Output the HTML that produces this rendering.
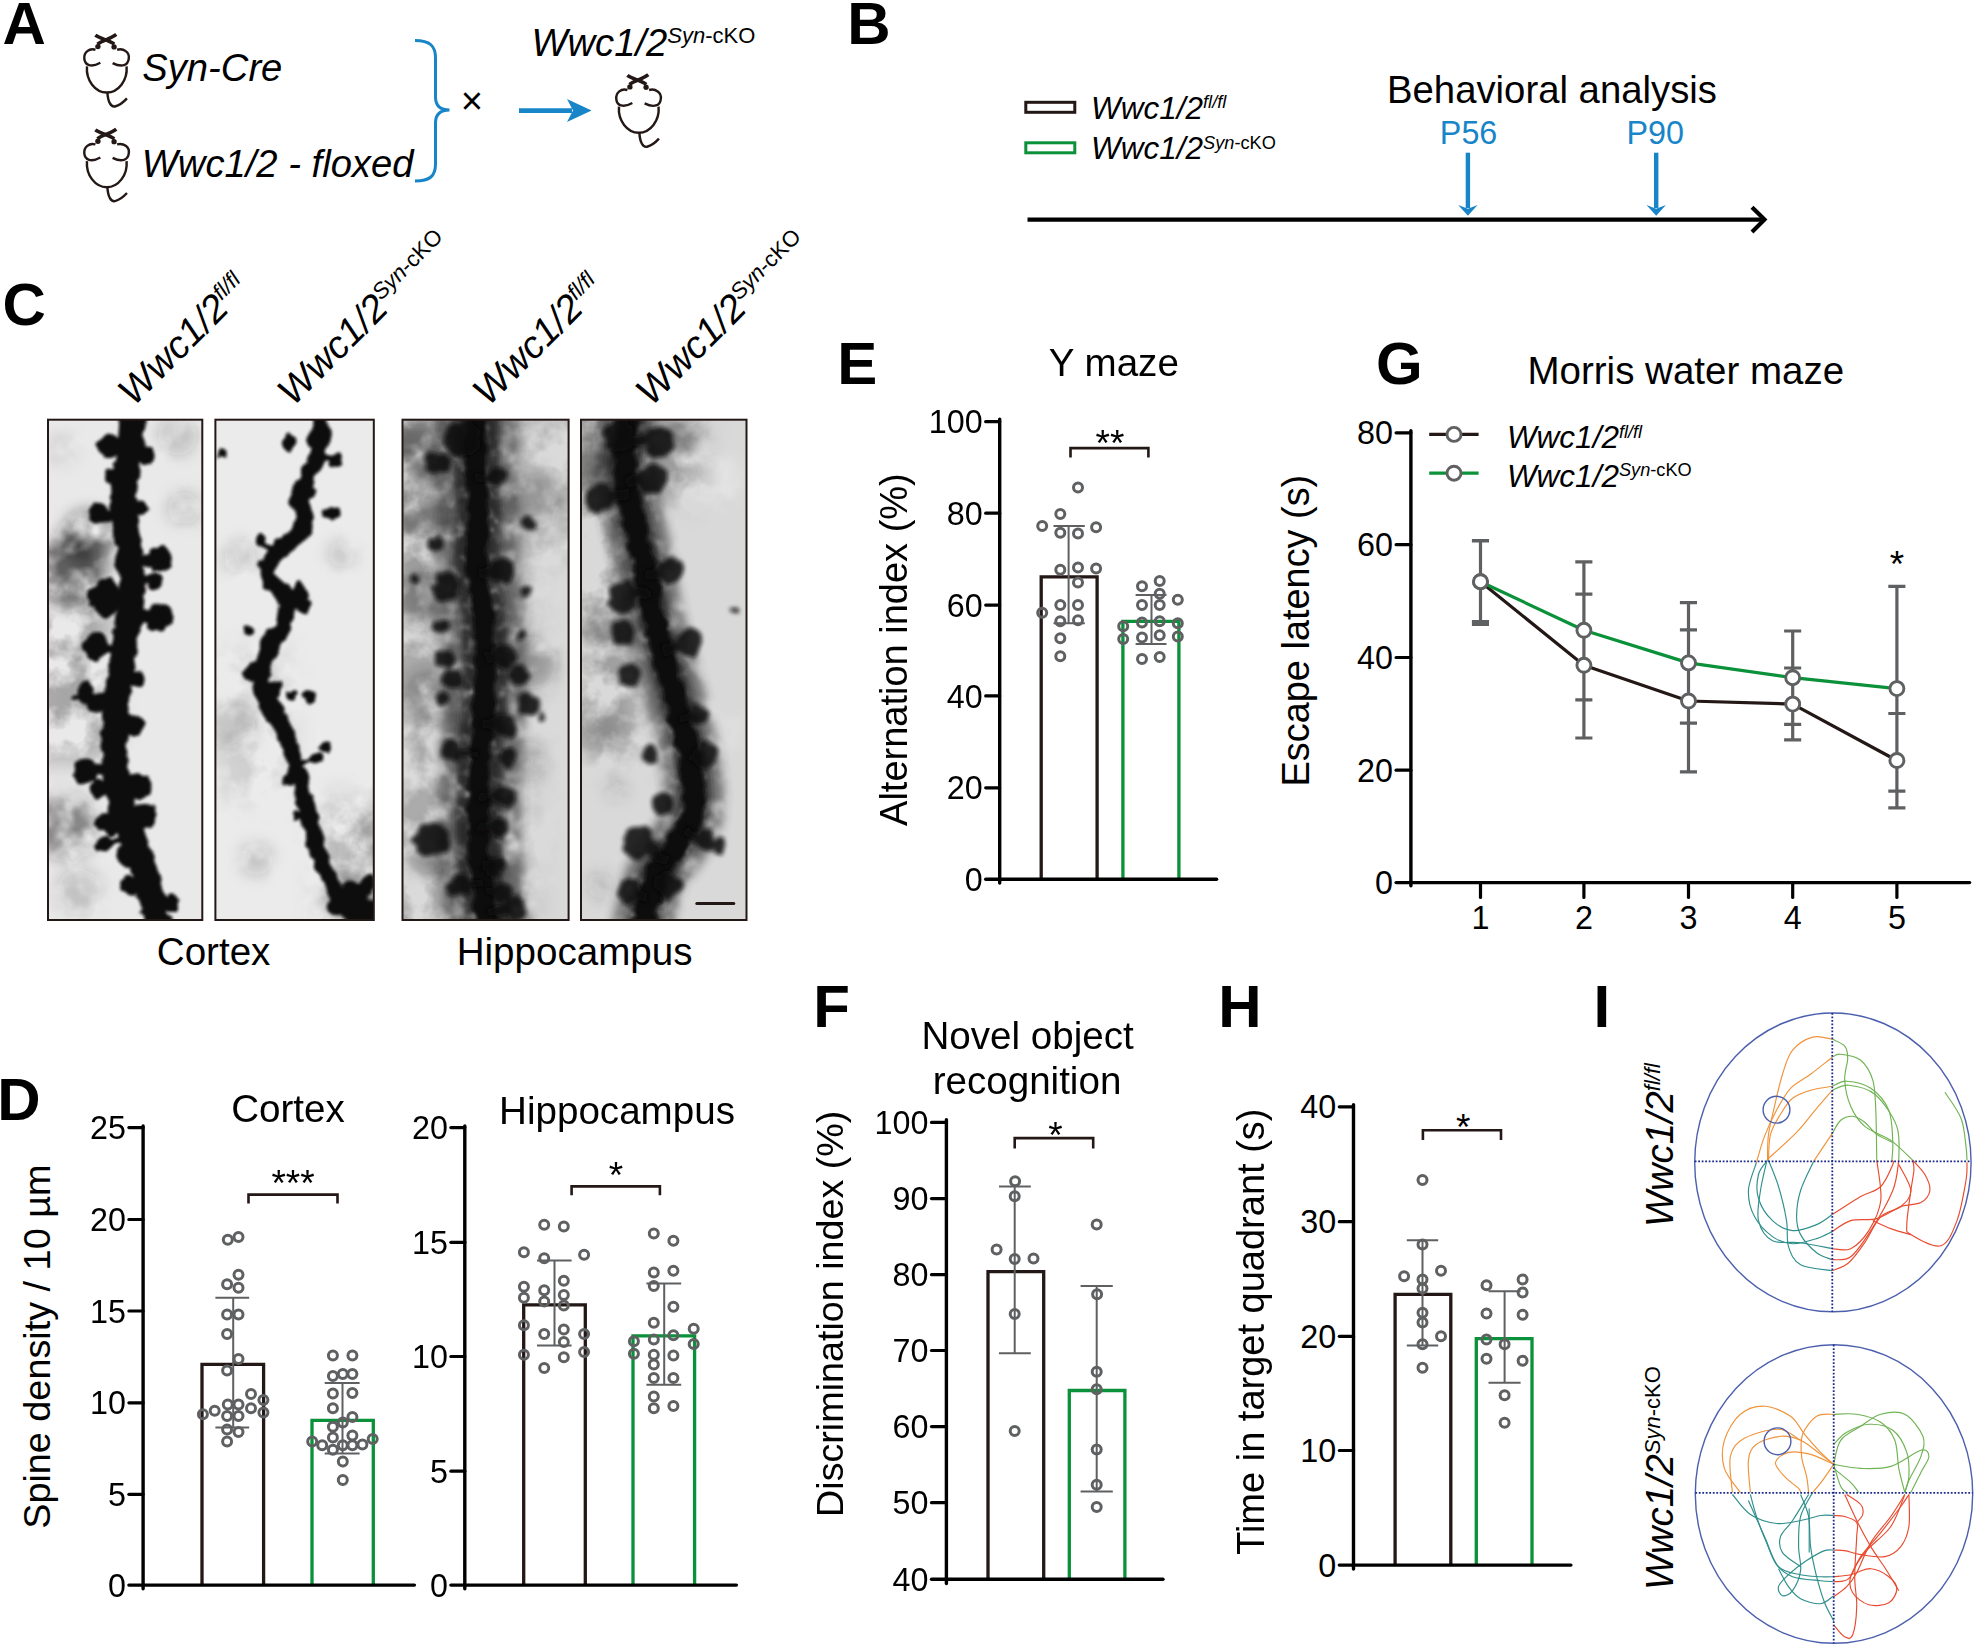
<!DOCTYPE html>
<html lang="en"><head><meta charset="utf-8"><title>Figure</title>
<style>html,body{margin:0;padding:0;background:#fff;}svg{display:block;}text{font-family:"Liberation Sans", sans-serif;}</style></head><body>
<svg width="1975" height="1646" viewBox="0 0 1975 1646">
<rect width="1975" height="1646" fill="#fff"/>
<defs><g id="mouse" fill="none" stroke="#231815" stroke-width="20" stroke-linecap="butt">
<path d="M291,128 C330,158 400,168 447,202" stroke-width="29"/>
<path d="M463,122 C420,158 352,168 308,202" stroke-width="29"/>
<circle cx="312" cy="222" r="22" fill="#231815" stroke="none"/>
<circle cx="445" cy="225" r="22" fill="#231815" stroke="none"/>
<path d="M292,248 C240,232 195,270 200,322 C205,375 255,398 332,355"/>
<path d="M470,248 C522,232 575,270 566,322 C560,375 512,398 433,358"/>
<path d="M222,385 C212,500 290,600 385,600 C480,600 558,500 548,385"/>
<path d="M390,600 C395,680 420,722 452,715 C490,705 522,680 551,648"/>
</g></defs>
<text x="2.5" y="44" font-size="60" text-anchor="start" fill="#000" font-weight="bold">A</text>
<use href="#mouse" transform="translate(60,19.6) scale(0.12151)"/>
<use href="#mouse" transform="translate(60,114.3) scale(0.12151)"/>
<use href="#mouse" transform="translate(592,59.9) scale(0.12151)"/>
<text x="142.3" y="80.7" font-size="38.2" text-anchor="start" fill="#000" font-style="italic">Syn-Cre</text>
<text x="141.8" y="177" font-size="38.2" text-anchor="start" fill="#000" font-style="italic">Wwc1/2 - floxed</text>
<path d="M415,40.5 C430,40.5 435.5,46 435.5,58 V97 C435.5,106 440,110 449.5,110 C440,110 435.5,114 435.5,123 V164 C435.5,176 430,181 415,181" stroke="#1885c8" stroke-width="3" fill="none"/>
<text x="472" y="113.5" font-size="38.2" text-anchor="middle" fill="#000">×</text>
<line x1="519" y1="110.6" x2="572" y2="110.6" stroke="#1885c8" stroke-width="4.6" stroke-linecap="butt"/>
<path d="M591.6,110.6 L567,99 L573,110.6 L567,122 Z" fill="#1885c8"/>
<text x="531.5" y="55.7" font-size="38.2" text-anchor="start" fill="#000" font-style="italic">Wwc1/2<tspan dy="-12.8" font-size="22">Syn</tspan><tspan font-size="22" font-style="normal">-cKO</tspan></text>
<text x="847.3" y="44" font-size="60" text-anchor="start" fill="#000" font-weight="bold">B</text>
<rect x="1025.8" y="102.3" width="49" height="10" fill="none" stroke="#231815" stroke-width="3"/>
<rect x="1025.8" y="142.8" width="49" height="10" fill="none" stroke="#0a9139" stroke-width="3"/>
<text x="1091" y="118.6" font-size="31.5" text-anchor="start" fill="#000" font-style="italic">Wwc1/2<tspan dy="-10.6" font-size="18.2">fl/fl</tspan></text>
<text x="1091" y="159.1" font-size="31.5" text-anchor="start" fill="#000" font-style="italic">Wwc1/2<tspan dy="-10.6" font-size="18.2">Syn</tspan><tspan font-size="18.2" font-style="normal">-cKO</tspan></text>
<text x="1552" y="102.8" font-size="38.3" text-anchor="middle" fill="#000">Behavioral analysis</text>
<text x="1468.6" y="143.6" font-size="32.3" text-anchor="middle" fill="#1885c8">P56</text>
<text x="1655.2" y="143.6" font-size="32.3" text-anchor="middle" fill="#1885c8">P90</text>
<line x1="1467.9" y1="152.7" x2="1467.9" y2="208" stroke="#1885c8" stroke-width="4.4" stroke-linecap="butt"/>
<path d="M1467.9,215.8 L1458.2,205 L1467.9,208.8 L1477.6,205 Z" fill="#1885c8"/>
<line x1="1656.2" y1="152.7" x2="1656.2" y2="208" stroke="#1885c8" stroke-width="4.4" stroke-linecap="butt"/>
<path d="M1656.2,215.8 L1646.5,205 L1656.2,208.8 L1665.9,205 Z" fill="#1885c8"/>
<line x1="1027.5" y1="219.6" x2="1763" y2="219.6" stroke="#000" stroke-width="4.4" stroke-linecap="butt"/>
<path d="M1752,207.2 L1764.5,219.6 L1752,232" stroke="#000" stroke-width="4.2" fill="none"/>
<text x="2.4" y="325.4" font-size="60" text-anchor="start" fill="#000" font-weight="bold">C</text>
<defs><filter id="b1" filterUnits="userSpaceOnUse" x="0" y="380" width="800" height="580"><feTurbulence type="fractalNoise" baseFrequency="0.07" numOctaves="2" seed="4" result="n"/><feDisplacementMap in="SourceGraphic" in2="n" scale="11" xChannelSelector="R" yChannelSelector="G"/><feGaussianBlur stdDeviation="1.4"/></filter><filter id="b2" filterUnits="userSpaceOnUse" x="0" y="380" width="800" height="580"><feGaussianBlur stdDeviation="8" result="bl"/><feTurbulence type="fractalNoise" baseFrequency="0.035" numOctaves="3" seed="11" result="n"/><feColorMatrix in="n" type="matrix" values="0 0 0 0 0 0 0 0 0 0 0 0 0 0 0 2.6 0 0 0 -0.55" result="na"/><feComposite in="bl" in2="na" operator="in"/><feGaussianBlur stdDeviation="1.2"/></filter><filter id="b3" filterUnits="userSpaceOnUse" x="0" y="380" width="800" height="580"><feGaussianBlur stdDeviation="5" result="bl"/><feTurbulence type="fractalNoise" baseFrequency="0.05" numOctaves="3" seed="23" result="n"/><feColorMatrix in="n" type="matrix" values="0 0 0 0 0 0 0 0 0 0 0 0 0 0 0 2.2 0 0 0 -0.25" result="na"/><feComposite in="bl" in2="na" operator="in"/><feGaussianBlur stdDeviation="1.5"/></filter><filter id="tx" filterUnits="userSpaceOnUse" x="0" y="380" width="800" height="580"><feTurbulence type="fractalNoise" baseFrequency="0.028" numOctaves="4" seed="5" result="n"/><feColorMatrix in="n" type="matrix" values="0 0 0 0 0.13 0 0 0 0 0.13 0 0 0 0 0.13 3.4 0 0 0 -1.25" result="c"/><feGaussianBlur in="SourceGraphic" stdDeviation="14" result="sb"/><feComposite in="c" in2="sb" operator="in"/></filter><filter id="b5" filterUnits="userSpaceOnUse" x="0" y="380" width="800" height="580"><feGaussianBlur stdDeviation="3.2" result="bl"/><feTurbulence type="fractalNoise" baseFrequency="0.09" numOctaves="2" seed="31" result="n"/><feColorMatrix in="n" type="matrix" values="0 0 0 0 0 0 0 0 0 0 0 0 0 0 0 2.4 0 0 0 -0.2" result="na"/><feComposite in="bl" in2="na" operator="in"/><feGaussianBlur stdDeviation="1.2"/></filter><filter id="b4" filterUnits="userSpaceOnUse" x="0" y="380" width="800" height="580"><feTurbulence type="fractalNoise" baseFrequency="0.07" numOctaves="2" seed="4" result="n"/><feDisplacementMap in="SourceGraphic" in2="n" scale="11" xChannelSelector="R" yChannelSelector="G"/><feGaussianBlur stdDeviation="2.2"/></filter></defs>
<clipPath id="c1"><rect x="48" y="419.7" width="154.3" height="500.3"/></clipPath>
<g clip-path="url(#c1)">
<rect x="48" y="419.7" width="154.3" height="500.3" fill="#e9e9e9"/>
<g filter="url(#b2)">
<circle cx="69.4" cy="570.6" r="34.4" fill="#222" opacity="0.7"/>
<circle cx="66.1" cy="826.5" r="31.2" fill="#222" opacity="0.5"/>
<circle cx="177.6" cy="436.1" r="19.7" fill="#222" opacity="0.2"/>
<circle cx="89.1" cy="537.8" r="26.2" fill="#222" opacity="0.6"/>
<circle cx="184.2" cy="508.3" r="16.4" fill="#222" opacity="0.2"/>
<circle cx="79.2" cy="892.1" r="23" fill="#222" opacity="0.2"/>
<circle cx="62.8" cy="449.2" r="16.4" fill="#222" opacity="0.1"/>
</g>
<rect x="30" y="560" width="80" height="200" fill="#222" filter="url(#tx)" opacity="0.5"/>
<rect x="30" y="1150" width="70" height="270" fill="#222" filter="url(#tx)" opacity="0.4"/>
<g filter="url(#b1)" fill="#0c0a0a">
<path d="M133.3,413.1 C132.8,419.1 131.4,437.7 130.1,449.2 C128.7,460.7 126.2,471.1 125.1,482 C124.1,493 123,503.9 123.5,514.8 C124.1,525.8 127.1,536.7 128.4,547.6 C129.8,558.6 131.4,569.5 131.7,580.4 C132,591.4 131.4,602.3 130.1,613.3 C128.7,624.2 125.4,635.1 123.5,646.1 C121.6,657 119.9,667.9 118.6,678.9 C117.2,689.8 116.1,700.7 115.3,711.7 C114.5,722.6 113.4,733.6 113.7,744.5 C113.9,755.4 115.3,766.4 116.9,777.3 C118.6,788.2 120.5,799.2 123.5,810.1 C126.5,821 131.2,832 135,842.9 C138.8,853.8 142.6,862.1 146.5,875.7 C150.3,889.4 156,916.7 158,924.9" fill="none" stroke="#0c0a0a" stroke-width="26" stroke-linecap="round" stroke-linejoin="round"/>
<circle cx="108.7" cy="445.9" r="12.1"/>
<line x1="108.7" y1="445.9" x2="130.2" y2="447.9" stroke="#0c0a0a" stroke-width="9.7"/>
<circle cx="143.2" cy="455.8" r="10.3"/>
<line x1="143.2" y1="455.8" x2="129.4" y2="453.7" stroke="#0c0a0a" stroke-width="8.3"/>
<circle cx="100.5" cy="514.8" r="11"/>
<line x1="100.5" y1="514.8" x2="123.5" y2="514.8" stroke="#0c0a0a" stroke-width="8.9"/>
<circle cx="159.6" cy="559.1" r="12.1"/>
<line x1="159.6" y1="559.1" x2="129.9" y2="562.1" stroke="#0c0a0a" stroke-width="9.7"/>
<circle cx="154.7" cy="580.4" r="8.1"/>
<line x1="154.7" y1="580.4" x2="131.7" y2="580.4" stroke="#0c0a0a" stroke-width="6.5"/>
<circle cx="105.5" cy="598.5" r="17.6"/>
<line x1="105.5" y1="598.5" x2="130.7" y2="599.8" stroke="#0c0a0a" stroke-width="14.2"/>
<circle cx="159.6" cy="616.5" r="14"/>
<line x1="159.6" y1="616.5" x2="130.1" y2="613.3" stroke="#0c0a0a" stroke-width="11.2"/>
<circle cx="95.6" cy="646.1" r="12.9"/>
<line x1="95.6" y1="646.1" x2="122.9" y2="650.2" stroke="#0c0a0a" stroke-width="10.3"/>
<circle cx="85.8" cy="692" r="10.3"/>
<circle cx="98.9" cy="701.8" r="11"/>
<line x1="98.9" y1="701.8" x2="116.1" y2="703.6" stroke="#0c0a0a" stroke-width="8.9"/>
<circle cx="131.7" cy="724.8" r="12.1"/>
<line x1="131.7" y1="724.8" x2="114.7" y2="724" stroke="#0c0a0a" stroke-width="9.7"/>
<circle cx="135" cy="678.9" r="10.3"/>
<line x1="135" y1="678.9" x2="118.9" y2="676.5" stroke="#0c0a0a" stroke-width="8.3"/>
<circle cx="85.8" cy="770.7" r="12.1"/>
<line x1="85.8" y1="770.7" x2="116" y2="767.7" stroke="#0c0a0a" stroke-width="9.7"/>
<circle cx="98.9" cy="788.8" r="10.3"/>
<line x1="98.9" y1="788.8" x2="118.5" y2="784.9" stroke="#0c0a0a" stroke-width="8.3"/>
<circle cx="138.3" cy="787.1" r="12.1"/>
<line x1="138.3" y1="787.1" x2="119.7" y2="790.9" stroke="#0c0a0a" stroke-width="9.7"/>
<circle cx="144.8" cy="816.7" r="12.1"/>
<line x1="144.8" y1="816.7" x2="127.9" y2="822.6" stroke="#0c0a0a" stroke-width="9.7"/>
<circle cx="108.7" cy="823.2" r="12.1"/>
<line x1="108.7" y1="823.2" x2="126" y2="817.2" stroke="#0c0a0a" stroke-width="9.7"/>
<circle cx="104.8" cy="844.6" r="8.8"/>
<line x1="104.8" y1="844.6" x2="132.2" y2="835" stroke="#0c0a0a" stroke-width="7.1"/>
<circle cx="128.4" cy="856" r="11"/>
<line x1="128.4" y1="856" x2="138.4" y2="852.6" stroke="#0c0a0a" stroke-width="8.9"/>
<circle cx="131.7" cy="885.6" r="8.8"/>
<line x1="131.7" y1="885.6" x2="147.9" y2="881.8" stroke="#0c0a0a" stroke-width="7.1"/>
<circle cx="171.7" cy="902" r="8.8"/>
<line x1="171.7" y1="902" x2="153.6" y2="906.2" stroke="#0c0a0a" stroke-width="7.1"/>
<circle cx="74.3" cy="696.9" r="2.9"/>
<circle cx="138.3" cy="508.3" r="8.1"/>
<line x1="138.3" y1="508.3" x2="123.9" y2="507.5" stroke="#0c0a0a" stroke-width="6.5"/>
<circle cx="115.3" cy="478.7" r="10.3"/>
<line x1="115.3" y1="478.7" x2="125.4" y2="480.3" stroke="#0c0a0a" stroke-width="8.3"/>
</g>
</g>
<rect x="48" y="419.7" width="154.3" height="500.3" fill="none" stroke="#231815" stroke-width="2"/>
<clipPath id="c2"><rect x="215.4" y="419.7" width="158.4" height="500.3"/></clipPath>
<g clip-path="url(#c2)">
<rect x="215.4" y="419.7" width="158.4" height="500.3" fill="#ebebeb"/>
<g filter="url(#b2)">
<circle cx="354.8" cy="898.7" r="18" fill="#222" opacity="0.9"/>
<circle cx="367.9" cy="842.9" r="14.8" fill="#222" opacity="0.5"/>
<circle cx="233.4" cy="728.1" r="23" fill="#222" opacity="0.2"/>
<circle cx="240" cy="557.5" r="16.4" fill="#222" opacity="0.2"/>
<circle cx="341.7" cy="554.2" r="13.1" fill="#222" opacity="0.2"/>
<circle cx="256.4" cy="859.3" r="16.4" fill="#222" opacity="0.2"/>
<circle cx="345" cy="885.6" r="11.5" fill="#222" opacity="0.9"/>
</g>
<rect x="215" y="650" width="75" height="150" fill="#222" filter="url(#tx)" opacity="0.2"/>
<rect x="320" y="800" width="70" height="140" fill="#222" filter="url(#tx)" opacity="0.4"/>
<g filter="url(#b1)" fill="#0c0a0a">
<path d="M320.4,413.1 C320.4,419.1 322.3,438.8 320.4,449.2 C318.4,459.6 312.4,467.3 308.9,475.5 C305.3,483.7 299.6,490.8 299,498.4 C298.5,506.1 306.7,514.3 305.6,521.4 C304.5,528.5 297.9,535.1 292.5,541.1 C287,547.1 276.9,551.5 272.8,557.5 C268.7,563.5 265.7,570.6 267.9,577.2 C270,583.7 283.2,589.2 285.9,596.9 C288.6,604.5 286.7,615.4 284.3,623.1 C281.8,630.8 274.4,636.2 271.1,642.8 C267.9,649.3 266.5,655.9 264.6,662.5 C262.7,669 258.8,675 259.7,682.2 C260.5,689.3 265.4,697.5 269.5,705.1 C273.6,712.8 280.4,719.9 284.3,728.1 C288.1,736.3 290,746.1 292.5,754.3 C294.9,762.5 296.6,768 299,777.3 C301.5,786.6 304.5,799.2 307.2,810.1 C310,821 312.4,833.1 315.4,842.9 C318.4,852.8 321.4,860.4 325.3,869.2 C329.1,877.9 332.9,886.1 338.4,895.4 C343.9,904.7 354.8,920 358.1,924.9" fill="none" stroke="#0c0a0a" stroke-width="17" stroke-linecap="round" stroke-linejoin="round"/>
<circle cx="289.2" cy="442.7" r="7.3"/>
<circle cx="335.1" cy="460.7" r="7.3"/>
<line x1="335.1" y1="460.7" x2="318.5" y2="453.4" stroke="#0c0a0a" stroke-width="5.9"/>
<circle cx="331.8" cy="514.8" r="8.8"/>
<circle cx="261.3" cy="539.4" r="6.2"/>
<line x1="261.3" y1="539.4" x2="274.9" y2="555.7" stroke="#0c0a0a" stroke-width="5"/>
<circle cx="299" cy="593.6" r="10.3"/>
<line x1="299" y1="593.6" x2="285.9" y2="596.9" stroke="#0c0a0a" stroke-width="8.3"/>
<circle cx="304.9" cy="606" r="7.3"/>
<line x1="304.9" y1="606" x2="285.4" y2="604.8" stroke="#0c0a0a" stroke-width="5.9"/>
<circle cx="248.2" cy="629.7" r="5.1"/>
<circle cx="253.1" cy="672.3" r="10.3"/>
<line x1="253.1" y1="672.3" x2="261.6" y2="674.4" stroke="#0c0a0a" stroke-width="8.3"/>
<circle cx="308.9" cy="698.6" r="7.3"/>
<circle cx="292.5" cy="695.3" r="5.1"/>
<circle cx="325.3" cy="747.8" r="7.3"/>
<circle cx="315.4" cy="759.3" r="5.9"/>
<line x1="315.4" y1="759.3" x2="295.5" y2="764.9" stroke="#0c0a0a" stroke-width="4.7"/>
<circle cx="289.2" cy="780.6" r="6.2"/>
<line x1="289.2" y1="780.6" x2="299.2" y2="778.1" stroke="#0c0a0a" stroke-width="5"/>
<circle cx="295.7" cy="815" r="5.1"/>
<line x1="295.7" y1="815" x2="307.7" y2="812" stroke="#0c0a0a" stroke-width="4.1"/>
<circle cx="221.9" cy="454.1" r="4.8"/>
<circle cx="302.3" cy="491.9" r="11"/>
<line x1="302.3" y1="491.9" x2="301.9" y2="491.7" stroke="#0c0a0a" stroke-width="8.9"/>
<circle cx="315.4" cy="439.4" r="11"/>
<line x1="315.4" y1="439.4" x2="320.4" y2="439.4" stroke="#0c0a0a" stroke-width="8.9"/>
<circle cx="272.8" cy="688.7" r="8.1"/>
<line x1="272.8" y1="688.7" x2="264.1" y2="692.4" stroke="#0c0a0a" stroke-width="6.5"/>
<circle cx="353.2" cy="897" r="15.4"/>
<line x1="353.2" y1="897" x2="343.7" y2="903.4" stroke="#0c0a0a" stroke-width="12.4"/>
<circle cx="366.3" cy="883.9" r="9.6"/>
<circle cx="369.6" cy="911.8" r="11.8"/>
<line x1="369.6" y1="911.8" x2="355.6" y2="921.1" stroke="#0c0a0a" stroke-width="9.4"/>
<circle cx="335.1" cy="906.9" r="8.1"/>
<line x1="335.1" y1="906.9" x2="342.7" y2="901.8" stroke="#0c0a0a" stroke-width="6.5"/>
</g>
</g>
<rect x="215.4" y="419.7" width="158.4" height="500.3" fill="none" stroke="#231815" stroke-width="2"/>
<clipPath id="c3"><rect x="402.5" y="419.7" width="166.1" height="500.3"/></clipPath>
<g clip-path="url(#c3)">
<rect x="402.5" y="419.7" width="166.1" height="500.3" fill="#dadada"/>
<g filter="url(#b2)">
<circle cx="416.2" cy="449.2" r="29.5" fill="#222" opacity="0.6"/>
<circle cx="537.6" cy="498.4" r="29.5" fill="#222" opacity="0.3"/>
<circle cx="422.8" cy="596.9" r="29.5" fill="#222" opacity="0.5"/>
<circle cx="531.1" cy="662.5" r="26.2" fill="#222" opacity="0.3"/>
<circle cx="429.4" cy="695.3" r="26.2" fill="#222" opacity="0.4"/>
<circle cx="432.7" cy="852.8" r="26.2" fill="#222" opacity="0.4"/>
<circle cx="419.5" cy="514.8" r="23" fill="#222" opacity="0.5"/>
<circle cx="527.8" cy="760.9" r="19.7" fill="#222" opacity="0.2"/>
</g>
<rect x="380" y="400" width="90" height="540" fill="#222" filter="url(#tx)" opacity="0.4"/>
<rect x="380" y="400" width="220" height="160" fill="#222" filter="url(#tx)" opacity="0.3"/>
<rect x="470" y="560" width="70" height="380" fill="#222" filter="url(#tx)" opacity="0.2"/>
<path d="M476.9,413.1 C476.7,421.9 475,448.7 475.3,465.6 C475.6,482.6 478.3,498.4 478.6,514.8 C478.9,531.2 476.1,547.6 476.9,564 C477.8,580.4 482.1,596.9 483.5,613.3 C484.9,629.7 485.1,646.1 485.1,662.5 C485.1,678.9 484.3,695.3 483.5,711.7 C482.7,728.1 481,744.5 480.2,760.9 C479.4,777.3 478.6,793.7 478.6,810.1 C478.6,826.5 478.6,840.2 480.2,859.3 C481.9,878.5 487.1,914 488.4,924.9" fill="none" stroke="#2a2a2a" stroke-width="84" opacity="0.6" filter="url(#b3)" stroke-linecap="round"/>
<path d="M476.9,413.1 C476.7,421.9 475,448.7 475.3,465.6 C475.6,482.6 478.3,498.4 478.6,514.8 C478.9,531.2 476.1,547.6 476.9,564 C477.8,580.4 482.1,596.9 483.5,613.3 C484.9,629.7 485.1,646.1 485.1,662.5 C485.1,678.9 484.3,695.3 483.5,711.7 C482.7,728.1 481,744.5 480.2,760.9 C479.4,777.3 478.6,793.7 478.6,810.1 C478.6,826.5 478.6,840.2 480.2,859.3 C481.9,878.5 487.1,914 488.4,924.9" fill="none" stroke="#1c1c1c" stroke-width="46.2" opacity="0.8" filter="url(#b5)" stroke-linecap="round"/>
<g filter="url(#b1)" fill="#0c0a0a">
<path d="M476.9,413.1 C476.7,421.9 475,448.7 475.3,465.6 C475.6,482.6 478.3,498.4 478.6,514.8 C478.9,531.2 476.1,547.6 476.9,564 C477.8,580.4 482.1,596.9 483.5,613.3 C484.9,629.7 485.1,646.1 485.1,662.5 C485.1,678.9 484.3,695.3 483.5,711.7 C482.7,728.1 481,744.5 480.2,760.9 C479.4,777.3 478.6,793.7 478.6,810.1 C478.6,826.5 478.6,840.2 480.2,859.3 C481.9,878.5 487.1,914 488.4,924.9" fill="none" stroke="#0c0a0a" stroke-width="21" stroke-linecap="round" stroke-linejoin="round"/>
</g>
<g filter="url(#b4)" fill="#0c0a0a" opacity="0.88">
<circle cx="435.9" cy="462.3" r="12.3"/>
<circle cx="498.3" cy="475.5" r="10.3"/>
<line x1="498.3" y1="475.5" x2="476.1" y2="476.9" stroke="#0c0a0a" stroke-width="7.4"/>
<circle cx="527.8" cy="523" r="7.4"/>
<circle cx="435.9" cy="544.4" r="8.2"/>
<circle cx="501.5" cy="570.6" r="12.3"/>
<line x1="501.5" y1="570.6" x2="478.2" y2="573.7" stroke="#0c0a0a" stroke-width="8.9"/>
<circle cx="416.2" cy="578.8" r="4.9"/>
<circle cx="445.8" cy="587" r="14.4"/>
<circle cx="527.8" cy="591.9" r="4.9"/>
<circle cx="442.5" cy="626.4" r="8.2"/>
<circle cx="445.8" cy="659.2" r="9"/>
<circle cx="504.8" cy="655.9" r="12.3"/>
<line x1="504.8" y1="655.9" x2="484.9" y2="656.6" stroke="#0c0a0a" stroke-width="8.9"/>
<circle cx="521.2" cy="636.2" r="4.9"/>
<circle cx="452.3" cy="678.9" r="10.3"/>
<circle cx="518" cy="675.6" r="10.3"/>
<circle cx="442.5" cy="698.6" r="7.4"/>
<circle cx="527.8" cy="705.1" r="10.3"/>
<circle cx="540.9" cy="716.6" r="4.1"/>
<circle cx="504.8" cy="724.8" r="12.3"/>
<line x1="504.8" y1="724.8" x2="482.7" y2="723.3" stroke="#0c0a0a" stroke-width="8.9"/>
<circle cx="452.3" cy="751" r="11.5"/>
<line x1="452.3" y1="751" x2="480.8" y2="752.9" stroke="#0c0a0a" stroke-width="8.3"/>
<circle cx="508.1" cy="757.6" r="9"/>
<circle cx="504.8" cy="797" r="11.5"/>
<line x1="504.8" y1="797" x2="479" y2="796.1" stroke="#0c0a0a" stroke-width="8.3"/>
<circle cx="432.7" cy="839.6" r="17.2"/>
<circle cx="422.8" cy="841.3" r="10.3"/>
<circle cx="498.3" cy="826.5" r="10.3"/>
<line x1="498.3" y1="826.5" x2="479.2" y2="827.1" stroke="#0c0a0a" stroke-width="7.4"/>
<circle cx="495" cy="865.9" r="10.3"/>
<line x1="495" y1="865.9" x2="481.3" y2="867.6" stroke="#0c0a0a" stroke-width="7.4"/>
<circle cx="514.7" cy="908.5" r="12.3"/>
<line x1="514.7" y1="908.5" x2="486.8" y2="912" stroke="#0c0a0a" stroke-width="8.9"/>
<circle cx="462.2" cy="439.4" r="18.5"/>
<line x1="462.2" y1="439.4" x2="476.1" y2="439.8" stroke="#0c0a0a" stroke-width="13.3"/>
<circle cx="458.9" cy="885.6" r="12.3"/>
<line x1="458.9" y1="885.6" x2="483.1" y2="882.5" stroke="#0c0a0a" stroke-width="8.9"/>
<circle cx="501.5" cy="892.1" r="10.3"/>
<line x1="501.5" y1="892.1" x2="484.6" y2="894.2" stroke="#0c0a0a" stroke-width="7.4"/>
</g>
</g>
<rect x="402.5" y="419.7" width="166.1" height="500.3" fill="none" stroke="#231815" stroke-width="2"/>
<clipPath id="c4"><rect x="581" y="419.7" width="165.5" height="500.3"/></clipPath>
<g clip-path="url(#c4)">
<rect x="581" y="419.7" width="165.5" height="500.3" fill="#d9d9d9"/>
<g filter="url(#b2)">
<circle cx="600" cy="465.6" r="23" fill="#222" opacity="0.5"/>
<circle cx="678.7" cy="432.8" r="23" fill="#222" opacity="0.4"/>
<circle cx="603.3" cy="629.7" r="16.4" fill="#222" opacity="0.3"/>
<circle cx="606.5" cy="728.1" r="16.4" fill="#222" opacity="0.2"/>
<circle cx="616.4" cy="788.8" r="8.2" fill="#222" opacity="0.3"/>
<circle cx="600" cy="885.6" r="13.1" fill="#222" opacity="0.2"/>
<circle cx="718.1" cy="482" r="26.2" fill="#fff" opacity="0.3"/>
<circle cx="718.1" cy="728.1" r="26.2" fill="#fff" opacity="0.2"/>
</g>
<rect x="570" y="400" width="70" height="360" fill="#222" filter="url(#tx)" opacity="0.5"/>
<rect x="570" y="400" width="130" height="100" fill="#222" filter="url(#tx)" opacity="0.5"/>
<path d="M631.1,413.1 C630,421.9 624.3,448.7 624.6,465.6 C624.9,482.6 629.5,498.4 632.8,514.8 C636.1,531.2 641,547.6 644.3,564 C647.5,580.4 648.9,596.9 652.5,613.3 C656,629.7 661.2,646.1 665.6,662.5 C670,678.9 674.6,695.3 678.7,711.7 C682.8,728.1 687.7,744.5 690.2,760.9 C692.7,777.3 695.4,796.4 693.5,810.1 C691.6,823.8 685,832 678.7,842.9 C672.4,853.8 661.8,862.1 655.7,875.7 C649.7,889.4 644.8,916.7 642.6,924.9" fill="none" stroke="#2a2a2a" stroke-width="60" opacity="0.6" filter="url(#b3)" stroke-linecap="round"/>
<path d="M631.1,413.1 C630,421.9 624.3,448.7 624.6,465.6 C624.9,482.6 629.5,498.4 632.8,514.8 C636.1,531.2 641,547.6 644.3,564 C647.5,580.4 648.9,596.9 652.5,613.3 C656,629.7 661.2,646.1 665.6,662.5 C670,678.9 674.6,695.3 678.7,711.7 C682.8,728.1 687.7,744.5 690.2,760.9 C692.7,777.3 695.4,796.4 693.5,810.1 C691.6,823.8 685,832 678.7,842.9 C672.4,853.8 661.8,862.1 655.7,875.7 C649.7,889.4 644.8,916.7 642.6,924.9" fill="none" stroke="#1c1c1c" stroke-width="33" opacity="0.8" filter="url(#b5)" stroke-linecap="round"/>
<g filter="url(#b1)" fill="#0c0a0a">
<path d="M631.1,413.1 C630,421.9 624.3,448.7 624.6,465.6 C624.9,482.6 629.5,498.4 632.8,514.8 C636.1,531.2 641,547.6 644.3,564 C647.5,580.4 648.9,596.9 652.5,613.3 C656,629.7 661.2,646.1 665.6,662.5 C670,678.9 674.6,695.3 678.7,711.7 C682.8,728.1 687.7,744.5 690.2,760.9 C692.7,777.3 695.4,796.4 693.5,810.1 C691.6,823.8 685,832 678.7,842.9 C672.4,853.8 661.8,862.1 655.7,875.7 C649.7,889.4 644.8,916.7 642.6,924.9" fill="none" stroke="#0c0a0a" stroke-width="22" stroke-linecap="round" stroke-linejoin="round"/>
</g>
<g filter="url(#b4)" fill="#0c0a0a" opacity="0.88">
<circle cx="659" cy="442.7" r="15.6"/>
<line x1="659" y1="442.7" x2="627.9" y2="438.8" stroke="#0c0a0a" stroke-width="11.2"/>
<circle cx="652.5" cy="478.7" r="15.6"/>
<line x1="652.5" y1="478.7" x2="627.5" y2="482.9" stroke="#0c0a0a" stroke-width="11.2"/>
<circle cx="600" cy="498.4" r="14.8"/>
<line x1="600" y1="498.4" x2="629.2" y2="493.5" stroke="#0c0a0a" stroke-width="10.6"/>
<circle cx="668.9" cy="570.6" r="13.5"/>
<line x1="668.9" y1="570.6" x2="646" y2="574.4" stroke="#0c0a0a" stroke-width="9.7"/>
<circle cx="622.9" cy="596.9" r="15.6"/>
<line x1="622.9" y1="596.9" x2="649" y2="592.5" stroke="#0c0a0a" stroke-width="11.2"/>
<circle cx="622.9" cy="632.9" r="13.5"/>
<circle cx="688.6" cy="642.8" r="13.5"/>
<line x1="688.6" y1="642.8" x2="662.2" y2="649.8" stroke="#0c0a0a" stroke-width="9.7"/>
<circle cx="629.5" cy="675.6" r="11.5"/>
<circle cx="698.4" cy="715" r="9.8"/>
<line x1="698.4" y1="715" x2="680.5" y2="719.1" stroke="#0c0a0a" stroke-width="7.1"/>
<circle cx="705" cy="754.3" r="13.5"/>
<line x1="705" y1="754.3" x2="689.5" y2="757.9" stroke="#0c0a0a" stroke-width="9.7"/>
<circle cx="649.2" cy="754.3" r="8.2"/>
<circle cx="662.3" cy="803.5" r="11.5"/>
<circle cx="639.3" cy="842.9" r="17.2"/>
<line x1="639.3" y1="842.9" x2="665.8" y2="861.4" stroke="#0c0a0a" stroke-width="12.4"/>
<circle cx="718.1" cy="846.2" r="7"/>
<circle cx="668.9" cy="885.6" r="13.5"/>
<line x1="668.9" y1="885.6" x2="654.2" y2="881.6" stroke="#0c0a0a" stroke-width="9.7"/>
<circle cx="629.5" cy="892.1" r="12.3"/>
<line x1="629.5" y1="892.1" x2="649.9" y2="897.6" stroke="#0c0a0a" stroke-width="8.9"/>
<circle cx="733.5" cy="611.6" r="3.7"/>
<circle cx="705" cy="839.6" r="10.3"/>
<line x1="705" y1="839.6" x2="684.4" y2="830.4" stroke="#0c0a0a" stroke-width="7.4"/>
<circle cx="619.7" cy="436.1" r="16.4"/>
<line x1="619.7" y1="436.1" x2="628.1" y2="437.1" stroke="#0c0a0a" stroke-width="11.8"/>
</g>
</g>
<rect x="581" y="419.7" width="165.5" height="500.3" fill="none" stroke="#231815" stroke-width="2"/>
<line x1="696.8" y1="903.6" x2="733.8" y2="903.6" stroke="#231815" stroke-width="3" stroke-linecap="round"/>
<text transform="translate(133.8,407) rotate(-45)" font-size="38.5" text-anchor="start" fill="#000" font-style="italic">Wwc1/2<tspan dy="-12.9" font-size="22.3">fl/fl</tspan></text>
<text transform="translate(293.3,407) rotate(-45)" font-size="38.5" text-anchor="start" fill="#000" font-style="italic">Wwc1/2<tspan dy="-12.9" font-size="22.3">Syn</tspan><tspan font-size="22.3" font-style="normal">-cKO</tspan></text>
<text transform="translate(488.4,407) rotate(-45)" font-size="38.5" text-anchor="start" fill="#000" font-style="italic">Wwc1/2<tspan dy="-12.9" font-size="22.3">fl/fl</tspan></text>
<text transform="translate(651.5,407) rotate(-45)" font-size="38.5" text-anchor="start" fill="#000" font-style="italic">Wwc1/2<tspan dy="-12.9" font-size="22.3">Syn</tspan><tspan font-size="22.3" font-style="normal">-cKO</tspan></text>
<text x="213.6" y="965.2" font-size="38.6" text-anchor="middle" fill="#000">Cortex</text>
<text x="574.6" y="965.2" font-size="38.6" text-anchor="middle" fill="#000">Hippocampus</text>
<text x="-2.7" y="1119.9" font-size="60" text-anchor="start" fill="#000" font-weight="bold">D</text>
<text transform="translate(50.3,1346.7) rotate(-90)" font-size="37.8" text-anchor="middle" fill="#000">Spine density / 10 µm</text>
<text x="288" y="1122.3" font-size="38.6" text-anchor="middle" fill="#000">Cortex</text>
<path d="M202,1585.1 V1364.4 H263.6 V1585.1" stroke="#231815" stroke-width="3.3" fill="none" stroke-linejoin="miter"/>
<path d="M312,1585.1 V1420.3 H373.3 V1585.1" stroke="#0a9139" stroke-width="3.3" fill="none" stroke-linejoin="miter"/>
<path d="M233.2,1297.8 V1427.4 M215.4,1297.8 H249.2 M215.4,1427.4 H249.2" stroke="#5f6062" stroke-width="2" fill="none"/>
<path d="M342.5,1382.9 V1453.4 M324.7,1382.9 H359.6 M324.7,1453.4 H359.6" stroke="#5f6062" stroke-width="2" fill="none"/>
<g fill="none" stroke="#5f6062" stroke-width="3">
<circle cx="227.8" cy="1239.8" r="4.5"/>
<circle cx="238.5" cy="1236.9" r="4.5"/>
<circle cx="238.5" cy="1274.7" r="4.5"/>
<circle cx="227.1" cy="1284.3" r="4.5"/>
<circle cx="238.5" cy="1287.8" r="4.5"/>
<circle cx="227.1" cy="1314.5" r="4.5"/>
<circle cx="238.5" cy="1314.5" r="4.5"/>
<circle cx="227.1" cy="1334.1" r="4.5"/>
<circle cx="238.5" cy="1359" r="4.5"/>
<circle cx="227.1" cy="1370.4" r="4.5"/>
<circle cx="251" cy="1393.9" r="4.5"/>
<circle cx="263.4" cy="1400" r="4.5"/>
<circle cx="214.7" cy="1410.7" r="4.5"/>
<circle cx="227.8" cy="1404.6" r="4.5"/>
<circle cx="238.5" cy="1404.6" r="4.5"/>
<circle cx="251" cy="1408.2" r="4.5"/>
<circle cx="263.4" cy="1412.4" r="4.5"/>
<circle cx="202.9" cy="1414.2" r="4.5"/>
<circle cx="227.1" cy="1416" r="4.5"/>
<circle cx="238.5" cy="1416" r="4.5"/>
<circle cx="227.1" cy="1429.5" r="4.5"/>
<circle cx="238.5" cy="1432" r="4.5"/>
<circle cx="227.1" cy="1441.6" r="4.5"/>
<circle cx="332.9" cy="1355.5" r="4.5"/>
<circle cx="352.4" cy="1355.5" r="4.5"/>
<circle cx="332.9" cy="1376.1" r="4.5"/>
<circle cx="342.8" cy="1374" r="4.5"/>
<circle cx="352.4" cy="1374" r="4.5"/>
<circle cx="332.9" cy="1393.6" r="4.5"/>
<circle cx="352.4" cy="1392.9" r="4.5"/>
<circle cx="332.9" cy="1408.2" r="4.5"/>
<circle cx="352.4" cy="1417.1" r="4.5"/>
<circle cx="342.8" cy="1422.4" r="4.5"/>
<circle cx="332.9" cy="1426.7" r="4.5"/>
<circle cx="332.9" cy="1437.4" r="4.5"/>
<circle cx="352.4" cy="1435.6" r="4.5"/>
<circle cx="372.7" cy="1439.1" r="4.5"/>
<circle cx="312.2" cy="1441.6" r="4.5"/>
<circle cx="322.2" cy="1445.2" r="4.5"/>
<circle cx="342.8" cy="1445.2" r="4.5"/>
<circle cx="352.4" cy="1445.2" r="4.5"/>
<circle cx="362.4" cy="1444.5" r="4.5"/>
<circle cx="332.9" cy="1449.8" r="4.5"/>
<circle cx="342.8" cy="1461.6" r="4.5"/>
<circle cx="342.8" cy="1480.1" r="4.5"/>
</g>
<line x1="143.1" y1="1125.9" x2="143.1" y2="1588.7" stroke="#000" stroke-width="3.4" stroke-linecap="round"/>
<line x1="128.9" y1="1585.1" x2="414.4" y2="1585.1" stroke="#000" stroke-width="3.4" stroke-linecap="round"/>
<line x1="128.9" y1="1127.6" x2="143.1" y2="1127.6" stroke="#000" stroke-width="3.2" stroke-linecap="round"/>
<text x="125.9" y="1139.2" font-size="32.3" text-anchor="end" fill="#000">25</text>
<line x1="128.9" y1="1219.5" x2="143.1" y2="1219.5" stroke="#000" stroke-width="3.2" stroke-linecap="round"/>
<text x="125.9" y="1231.1" font-size="32.3" text-anchor="end" fill="#000">20</text>
<line x1="128.9" y1="1311" x2="143.1" y2="1311" stroke="#000" stroke-width="3.2" stroke-linecap="round"/>
<text x="125.9" y="1322.6" font-size="32.3" text-anchor="end" fill="#000">15</text>
<line x1="128.9" y1="1402.8" x2="143.1" y2="1402.8" stroke="#000" stroke-width="3.2" stroke-linecap="round"/>
<text x="125.9" y="1414.4" font-size="32.3" text-anchor="end" fill="#000">10</text>
<line x1="128.9" y1="1494.3" x2="143.1" y2="1494.3" stroke="#000" stroke-width="3.2" stroke-linecap="round"/>
<text x="125.9" y="1505.9" font-size="32.3" text-anchor="end" fill="#000">5</text>
<text x="125.9" y="1596.7" font-size="32.3" text-anchor="end" fill="#000">0</text>
<path d="M248.5,1203.5 V1194.6 H337.5 V1203.5" stroke="#231815" stroke-width="2.6" fill="none"/>
<text x="293" y="1195.5" font-size="37" text-anchor="middle" fill="#000">***</text>
<text x="617" y="1124" font-size="38.6" text-anchor="middle" fill="#000">Hippocampus</text>
<path d="M523.7,1585.1 V1304.9 H585.3 V1585.1" stroke="#231815" stroke-width="3.3" fill="none" stroke-linejoin="miter"/>
<path d="M633,1585.1 V1335.9 H694.6 V1585.1" stroke="#0a9139" stroke-width="3.3" fill="none" stroke-linejoin="miter"/>
<path d="M554.5,1260.4 V1345.5 M537,1260.4 H571.6 M537,1345.5 H571.6" stroke="#5f6062" stroke-width="2" fill="none"/>
<path d="M664.2,1283.6 V1384.7 M646.4,1283.6 H681.2 M646.4,1384.7 H681.2" stroke="#5f6062" stroke-width="2" fill="none"/>
<g fill="none" stroke="#5f6062" stroke-width="3">
<circle cx="544.2" cy="1224.8" r="4.5"/>
<circle cx="563.8" cy="1226.6" r="4.5"/>
<circle cx="523.9" cy="1252.2" r="4.5"/>
<circle cx="544.2" cy="1258.3" r="4.5"/>
<circle cx="584.1" cy="1254.7" r="4.5"/>
<circle cx="563.8" cy="1280.7" r="4.5"/>
<circle cx="523.9" cy="1286.8" r="4.5"/>
<circle cx="544.2" cy="1290.3" r="4.5"/>
<circle cx="523.9" cy="1297.8" r="4.5"/>
<circle cx="563.8" cy="1295" r="4.5"/>
<circle cx="544.2" cy="1301.4" r="4.5"/>
<circle cx="563.8" cy="1305.6" r="4.5"/>
<circle cx="523.9" cy="1325.2" r="4.5"/>
<circle cx="563.8" cy="1329.5" r="4.5"/>
<circle cx="544.2" cy="1334.1" r="4.5"/>
<circle cx="584.1" cy="1334.1" r="4.5"/>
<circle cx="563.8" cy="1342" r="4.5"/>
<circle cx="584.1" cy="1351.9" r="4.5"/>
<circle cx="523.9" cy="1354.8" r="4.5"/>
<circle cx="563.8" cy="1357.3" r="4.5"/>
<circle cx="544.2" cy="1367.9" r="4.5"/>
<circle cx="653.8" cy="1233.4" r="4.5"/>
<circle cx="673.4" cy="1240.8" r="4.5"/>
<circle cx="653.8" cy="1272.5" r="4.5"/>
<circle cx="673.4" cy="1270.8" r="4.5"/>
<circle cx="653.8" cy="1286.1" r="4.5"/>
<circle cx="673.4" cy="1306.7" r="4.5"/>
<circle cx="653.8" cy="1322.7" r="4.5"/>
<circle cx="693.7" cy="1328.8" r="4.5"/>
<circle cx="673.4" cy="1335.2" r="4.5"/>
<circle cx="633.9" cy="1341.2" r="4.5"/>
<circle cx="653.8" cy="1339.5" r="4.5"/>
<circle cx="693.7" cy="1344.1" r="4.5"/>
<circle cx="633.9" cy="1353.7" r="4.5"/>
<circle cx="653.8" cy="1354.8" r="4.5"/>
<circle cx="673.4" cy="1355.5" r="4.5"/>
<circle cx="653.8" cy="1364.4" r="4.5"/>
<circle cx="653.8" cy="1377.9" r="4.5"/>
<circle cx="673.4" cy="1377.9" r="4.5"/>
<circle cx="653.8" cy="1396.4" r="4.5"/>
<circle cx="653.8" cy="1408.2" r="4.5"/>
<circle cx="673.4" cy="1406" r="4.5"/>
</g>
<line x1="464.8" y1="1125.9" x2="464.8" y2="1588.7" stroke="#000" stroke-width="3.4" stroke-linecap="round"/>
<line x1="450.9" y1="1585.1" x2="736.4" y2="1585.1" stroke="#000" stroke-width="3.4" stroke-linecap="round"/>
<line x1="450.9" y1="1127.6" x2="464.8" y2="1127.6" stroke="#000" stroke-width="3.2" stroke-linecap="round"/>
<text x="447.9" y="1139.2" font-size="32.3" text-anchor="end" fill="#000">20</text>
<line x1="450.9" y1="1242.3" x2="464.8" y2="1242.3" stroke="#000" stroke-width="3.2" stroke-linecap="round"/>
<text x="447.9" y="1253.9" font-size="32.3" text-anchor="end" fill="#000">15</text>
<line x1="450.9" y1="1356.5" x2="464.8" y2="1356.5" stroke="#000" stroke-width="3.2" stroke-linecap="round"/>
<text x="447.9" y="1368.1" font-size="32.3" text-anchor="end" fill="#000">10</text>
<line x1="450.9" y1="1471.2" x2="464.8" y2="1471.2" stroke="#000" stroke-width="3.2" stroke-linecap="round"/>
<text x="447.9" y="1482.8" font-size="32.3" text-anchor="end" fill="#000">5</text>
<text x="447.9" y="1596.7" font-size="32.3" text-anchor="end" fill="#000">0</text>
<path d="M571.6,1195.3 V1186.4 H659.9 V1195.3" stroke="#231815" stroke-width="2.6" fill="none"/>
<text x="616" y="1187.5" font-size="37" text-anchor="middle" fill="#000">*</text>
<text x="837.2" y="383.9" font-size="60" text-anchor="start" fill="#000" font-weight="bold">E</text>
<text x="1113.8" y="375.7" font-size="38.6" text-anchor="middle" fill="#000">Y maze</text>
<text transform="translate(907.4,649.6) rotate(-90)" font-size="38" text-anchor="middle" fill="#000">Alternation index (%)</text>
<path d="M1041.2,879.3 V576.9 H1097.1 V879.3" stroke="#231815" stroke-width="3.3" fill="none" stroke-linejoin="miter"/>
<path d="M1122.9,879.3 V621.3 H1178.9 V879.3" stroke="#0a9139" stroke-width="3.3" fill="none" stroke-linejoin="miter"/>
<path d="M1068.6,526 V623.2 M1053.5,526 H1084.8 M1053.5,623.2 H1084.8" stroke="#5f6062" stroke-width="2" fill="none"/>
<path d="M1151.5,595 V643.9 M1135.6,595 H1166.5 M1135.6,643.9 H1166.5" stroke="#5f6062" stroke-width="2" fill="none"/>
<g fill="none" stroke="#5f6062" stroke-width="3">
<circle cx="1078" cy="487.6" r="4.5"/>
<circle cx="1060.3" cy="514" r="4.5"/>
<circle cx="1042.2" cy="526" r="4.5"/>
<circle cx="1096.1" cy="527.2" r="4.5"/>
<circle cx="1060.3" cy="532.8" r="4.5"/>
<circle cx="1078" cy="533.6" r="4.5"/>
<circle cx="1060.3" cy="569.7" r="4.5"/>
<circle cx="1078" cy="567.5" r="4.5"/>
<circle cx="1096.1" cy="568.6" r="4.5"/>
<circle cx="1078" cy="582.5" r="4.5"/>
<circle cx="1060.3" cy="605.1" r="4.5"/>
<circle cx="1078" cy="605.1" r="4.5"/>
<circle cx="1042.2" cy="612.7" r="4.5"/>
<circle cx="1060.3" cy="621.3" r="4.5"/>
<circle cx="1078" cy="620.2" r="4.5"/>
<circle cx="1060.3" cy="638.3" r="4.5"/>
<circle cx="1060.3" cy="656.3" r="4.5"/>
<circle cx="1142" cy="586.3" r="4.5"/>
<circle cx="1159.7" cy="581" r="4.5"/>
<circle cx="1159.7" cy="593.8" r="4.5"/>
<circle cx="1177.8" cy="599.8" r="4.5"/>
<circle cx="1142" cy="605.1" r="4.5"/>
<circle cx="1159.7" cy="605.1" r="4.5"/>
<circle cx="1142" cy="622.4" r="4.5"/>
<circle cx="1159.7" cy="621.3" r="4.5"/>
<circle cx="1177.8" cy="623.2" r="4.5"/>
<circle cx="1123.2" cy="626.2" r="4.5"/>
<circle cx="1142" cy="637.5" r="4.5"/>
<circle cx="1159.7" cy="635.3" r="4.5"/>
<circle cx="1177.8" cy="636.4" r="4.5"/>
<circle cx="1123.2" cy="639" r="4.5"/>
<circle cx="1142" cy="659" r="4.5"/>
<circle cx="1159.7" cy="657.1" r="4.5"/>
</g>
<line x1="999.7" y1="419.1" x2="999.7" y2="883" stroke="#000" stroke-width="3.4" stroke-linecap="round"/>
<line x1="985.7" y1="879.3" x2="1216.6" y2="879.3" stroke="#000" stroke-width="3.4" stroke-linecap="round"/>
<line x1="985.7" y1="421.7" x2="999.7" y2="421.7" stroke="#000" stroke-width="3.2" stroke-linecap="round"/>
<text x="982.7" y="433.3" font-size="32.3" text-anchor="end" fill="#000">100</text>
<line x1="985.7" y1="513.2" x2="999.7" y2="513.2" stroke="#000" stroke-width="3.2" stroke-linecap="round"/>
<text x="982.7" y="524.8" font-size="32.3" text-anchor="end" fill="#000">80</text>
<line x1="985.7" y1="605.1" x2="999.7" y2="605.1" stroke="#000" stroke-width="3.2" stroke-linecap="round"/>
<text x="982.7" y="616.7" font-size="32.3" text-anchor="end" fill="#000">60</text>
<line x1="985.7" y1="695.9" x2="999.7" y2="695.9" stroke="#000" stroke-width="3.2" stroke-linecap="round"/>
<text x="982.7" y="707.5" font-size="32.3" text-anchor="end" fill="#000">40</text>
<line x1="985.7" y1="787.8" x2="999.7" y2="787.8" stroke="#000" stroke-width="3.2" stroke-linecap="round"/>
<text x="982.7" y="799.4" font-size="32.3" text-anchor="end" fill="#000">20</text>
<text x="982.7" y="890.9" font-size="32.3" text-anchor="end" fill="#000">0</text>
<path d="M1070.5,457.5 V448.1 H1148.4 V457.5" stroke="#231815" stroke-width="2.6" fill="none"/>
<text x="1110" y="456" font-size="37" text-anchor="middle" fill="#000">**</text>
<text x="813.3" y="1026.7" font-size="60" text-anchor="start" fill="#000" font-weight="bold">F</text>
<text x="1027.6" y="1049" font-size="38.6" text-anchor="middle" fill="#000">Novel object</text>
<text x="1027" y="1094.2" font-size="38.6" text-anchor="middle" fill="#000">recognition</text>
<text transform="translate(843,1313.8) rotate(-90)" font-size="37.7" text-anchor="middle" fill="#000">Discrimination index (%)</text>
<path d="M988,1579.3 V1271.6 H1043.7 V1579.3" stroke="#231815" stroke-width="3.3" fill="none" stroke-linejoin="miter"/>
<path d="M1069.3,1579.3 V1390.5 H1124.9 V1579.3" stroke="#0a9139" stroke-width="3.3" fill="none" stroke-linejoin="miter"/>
<path d="M1014.7,1186.4 V1353.2 M999,1186.4 H1030.8 M999,1353.2 H1030.8" stroke="#5f6062" stroke-width="2" fill="none"/>
<path d="M1096.7,1286.1 V1491.4 M1080.6,1286.1 H1112.8 M1080.6,1491.4 H1112.8" stroke="#5f6062" stroke-width="2" fill="none"/>
<g fill="none" stroke="#5f6062" stroke-width="3">
<circle cx="1015.1" cy="1181.3" r="4.5"/>
<circle cx="1014.7" cy="1196.2" r="4.5"/>
<circle cx="996.6" cy="1249.6" r="4.5"/>
<circle cx="1014.7" cy="1259" r="4.5"/>
<circle cx="1033.5" cy="1258.6" r="4.5"/>
<circle cx="1014.7" cy="1314" r="4.5"/>
<circle cx="1014.7" cy="1430.9" r="4.5"/>
<circle cx="1096.7" cy="1224.5" r="4.5"/>
<circle cx="1097.1" cy="1294.3" r="4.5"/>
<circle cx="1096.7" cy="1371.7" r="4.5"/>
<circle cx="1096.7" cy="1389.3" r="4.5"/>
<circle cx="1096.7" cy="1449.4" r="4.5"/>
<circle cx="1096.7" cy="1484.7" r="4.5"/>
<circle cx="1096.7" cy="1507.1" r="4.5"/>
</g>
<line x1="946.4" y1="1119.7" x2="946.4" y2="1583.6" stroke="#000" stroke-width="3.4" stroke-linecap="round"/>
<line x1="931.5" y1="1579.3" x2="1163" y2="1579.3" stroke="#000" stroke-width="3.4" stroke-linecap="round"/>
<line x1="931.5" y1="1122.4" x2="946.4" y2="1122.4" stroke="#000" stroke-width="3.2" stroke-linecap="round"/>
<text x="928.5" y="1134" font-size="32.3" text-anchor="end" fill="#000">100</text>
<line x1="931.5" y1="1198.6" x2="946.4" y2="1198.6" stroke="#000" stroke-width="3.2" stroke-linecap="round"/>
<text x="928.5" y="1210.2" font-size="32.3" text-anchor="end" fill="#000">90</text>
<line x1="931.5" y1="1274.7" x2="946.4" y2="1274.7" stroke="#000" stroke-width="3.2" stroke-linecap="round"/>
<text x="928.5" y="1286.3" font-size="32.3" text-anchor="end" fill="#000">80</text>
<line x1="931.5" y1="1350.5" x2="946.4" y2="1350.5" stroke="#000" stroke-width="3.2" stroke-linecap="round"/>
<text x="928.5" y="1362.1" font-size="32.3" text-anchor="end" fill="#000">70</text>
<line x1="931.5" y1="1426.6" x2="946.4" y2="1426.6" stroke="#000" stroke-width="3.2" stroke-linecap="round"/>
<text x="928.5" y="1438.2" font-size="32.3" text-anchor="end" fill="#000">60</text>
<line x1="931.5" y1="1502.7" x2="946.4" y2="1502.7" stroke="#000" stroke-width="3.2" stroke-linecap="round"/>
<text x="928.5" y="1514.3" font-size="32.3" text-anchor="end" fill="#000">50</text>
<text x="928.5" y="1590.9" font-size="32.3" text-anchor="end" fill="#000">40</text>
<path d="M1014.7,1148.4 V1138.1 H1093.2 V1148.4" stroke="#231815" stroke-width="2.6" fill="none"/>
<text x="1055.5" y="1147.5" font-size="37" text-anchor="middle" fill="#000">*</text>
<text x="1218.3" y="1026.9" font-size="60" text-anchor="start" fill="#000" font-weight="bold">H</text>
<text transform="translate(1263.9,1331.7) rotate(-90)" font-size="38" text-anchor="middle" fill="#000">Time in target quadrant (s)</text>
<path d="M1395.1,1565.1 V1294.3 H1450.8 V1565.1" stroke="#231815" stroke-width="3.3" fill="none" stroke-linejoin="miter"/>
<path d="M1476.3,1565.1 V1338.7 H1532 V1565.1" stroke="#0a9139" stroke-width="3.3" fill="none" stroke-linejoin="miter"/>
<path d="M1422.5,1240.2 V1345.4 M1406.8,1240.2 H1438.2 M1406.8,1345.4 H1438.2" stroke="#5f6062" stroke-width="2" fill="none"/>
<path d="M1504.6,1291.2 V1382.7 M1488.5,1291.2 H1520.6 M1488.5,1382.7 H1520.6" stroke="#5f6062" stroke-width="2" fill="none"/>
<g fill="none" stroke="#5f6062" stroke-width="3">
<circle cx="1422.5" cy="1180.1" r="4.5"/>
<circle cx="1422.5" cy="1244.5" r="4.5"/>
<circle cx="1441" cy="1270.8" r="4.5"/>
<circle cx="1404.1" cy="1276.3" r="4.5"/>
<circle cx="1422.5" cy="1279.4" r="4.5"/>
<circle cx="1422.5" cy="1288.5" r="4.5"/>
<circle cx="1422.5" cy="1312.8" r="4.5"/>
<circle cx="1422.5" cy="1322.6" r="4.5"/>
<circle cx="1441" cy="1336.3" r="4.5"/>
<circle cx="1422.5" cy="1344.2" r="4.5"/>
<circle cx="1422.5" cy="1367.7" r="4.5"/>
<circle cx="1522.6" cy="1279.4" r="4.5"/>
<circle cx="1486.5" cy="1285.3" r="4.5"/>
<circle cx="1522.6" cy="1292.4" r="4.5"/>
<circle cx="1486.5" cy="1313.6" r="4.5"/>
<circle cx="1522.6" cy="1314.8" r="4.5"/>
<circle cx="1486.5" cy="1339.5" r="4.5"/>
<circle cx="1504.6" cy="1344.2" r="4.5"/>
<circle cx="1486.5" cy="1358.7" r="4.5"/>
<circle cx="1522.6" cy="1360.7" r="4.5"/>
<circle cx="1504.6" cy="1395.2" r="4.5"/>
<circle cx="1504.6" cy="1422.7" r="4.5"/>
</g>
<line x1="1353.5" y1="1104.8" x2="1353.5" y2="1569.1" stroke="#000" stroke-width="3.4" stroke-linecap="round"/>
<line x1="1339.3" y1="1565.1" x2="1570.9" y2="1565.1" stroke="#000" stroke-width="3.4" stroke-linecap="round"/>
<line x1="1339.3" y1="1106.8" x2="1353.5" y2="1106.8" stroke="#000" stroke-width="3.2" stroke-linecap="round"/>
<text x="1336.3" y="1118.4" font-size="32.3" text-anchor="end" fill="#000">40</text>
<line x1="1339.3" y1="1221.7" x2="1353.5" y2="1221.7" stroke="#000" stroke-width="3.2" stroke-linecap="round"/>
<text x="1336.3" y="1233.3" font-size="32.3" text-anchor="end" fill="#000">30</text>
<line x1="1339.3" y1="1336.3" x2="1353.5" y2="1336.3" stroke="#000" stroke-width="3.2" stroke-linecap="round"/>
<text x="1336.3" y="1347.9" font-size="32.3" text-anchor="end" fill="#000">20</text>
<line x1="1339.3" y1="1450.5" x2="1353.5" y2="1450.5" stroke="#000" stroke-width="3.2" stroke-linecap="round"/>
<text x="1336.3" y="1462.1" font-size="32.3" text-anchor="end" fill="#000">10</text>
<text x="1336.3" y="1576.7" font-size="32.3" text-anchor="end" fill="#000">0</text>
<path d="M1422.9,1140.1 V1130.3 H1501 V1140.1" stroke="#231815" stroke-width="2.6" fill="none"/>
<text x="1463.3" y="1139.5" font-size="37" text-anchor="middle" fill="#000">*</text>
<text x="1375.9" y="383.9" font-size="60" text-anchor="start" fill="#000" font-weight="bold">G</text>
<text x="1685.8" y="384.2" font-size="38.5" text-anchor="middle" fill="#000">Morris water maze</text>
<text transform="translate(1309.4,630.6) rotate(-90)" font-size="37.9" text-anchor="middle" fill="#000">Escape latency (s)</text>
<path d="M1480.5,540.5 V624.4 M1471.9,540.5 H1489 M1471.9,624.4 H1489 M1480.5,540.8 V621.7 M1471.9,540.8 H1489 M1471.9,621.7 H1489 M1583.9,594.1 V738 M1575.3,594.1 H1592.4 M1575.3,738 H1592.4 M1583.9,561.8 V699.9 M1575.3,561.8 H1592.4 M1575.3,699.9 H1592.4 M1688.5,629.9 V771.8 M1679.9,629.9 H1697 M1679.9,771.8 H1697 M1688.5,602.7 V723.2 M1679.9,602.7 H1697 M1679.9,723.2 H1697 M1792.7,668 V739.9 M1784.1,668 H1801.2 M1784.1,739.9 H1801.2 M1792.7,631 V724.4 M1784.1,631 H1801.2 M1784.1,724.4 H1801.2 M1896.9,713.5 V807.9 M1888.3,713.5 H1905.4 M1888.3,807.9 H1905.4 M1896.9,586.3 V791.2 M1888.3,586.3 H1905.4 M1888.3,791.2 H1905.4 " stroke="#5f6062" stroke-width="3.2" fill="none"/>
<path d="M1480.5,581.7 L1583.9,665.3 L1688.5,701 L1792.7,704.1 L1896.9,760.5" stroke="#231815" stroke-width="3.2" fill="none" stroke-linejoin="round"/>
<path d="M1480.5,581.7 L1583.9,630.3 L1688.5,662.9 L1792.7,677.7 L1896.9,688.6" stroke="#0a9139" stroke-width="3.2" fill="none" stroke-linejoin="round"/>
<g fill="#fff" stroke="#5f6062" stroke-width="2.9">
<circle cx="1480.5" cy="581.7" r="7"/>
<circle cx="1583.9" cy="665.3" r="7"/>
<circle cx="1688.5" cy="701" r="7"/>
<circle cx="1792.7" cy="704.1" r="7"/>
<circle cx="1896.9" cy="760.5" r="7"/>
<circle cx="1480.5" cy="581.7" r="7"/>
<circle cx="1583.9" cy="630.3" r="7"/>
<circle cx="1688.5" cy="662.9" r="7"/>
<circle cx="1792.7" cy="677.7" r="7"/>
<circle cx="1896.9" cy="688.6" r="7"/>
</g>
<line x1="1410.9" y1="430.8" x2="1410.9" y2="885.7" stroke="#000" stroke-width="3.4" stroke-linecap="round"/>
<line x1="1396.1" y1="882.6" x2="1969.6" y2="882.6" stroke="#000" stroke-width="3.4" stroke-linecap="round"/>
<line x1="1396.1" y1="432.8" x2="1410.9" y2="432.8" stroke="#000" stroke-width="3.2" stroke-linecap="round"/>
<text x="1393" y="444.4" font-size="32.3" text-anchor="end" fill="#000">80</text>
<line x1="1396.1" y1="544.7" x2="1410.9" y2="544.7" stroke="#000" stroke-width="3.2" stroke-linecap="round"/>
<text x="1393" y="556.3" font-size="32.3" text-anchor="end" fill="#000">60</text>
<line x1="1396.1" y1="657.5" x2="1410.9" y2="657.5" stroke="#000" stroke-width="3.2" stroke-linecap="round"/>
<text x="1393" y="669.1" font-size="32.3" text-anchor="end" fill="#000">40</text>
<line x1="1396.1" y1="770.2" x2="1410.9" y2="770.2" stroke="#000" stroke-width="3.2" stroke-linecap="round"/>
<text x="1393" y="781.8" font-size="32.3" text-anchor="end" fill="#000">20</text>
<text x="1393" y="894.2" font-size="32.3" text-anchor="end" fill="#000">0</text>
<line x1="1480.5" y1="882.6" x2="1480.5" y2="897.4" stroke="#000" stroke-width="3.2" stroke-linecap="round"/>
<text x="1480.5" y="928.5" font-size="32.3" text-anchor="middle" fill="#000">1</text>
<line x1="1583.9" y1="882.6" x2="1583.9" y2="897.4" stroke="#000" stroke-width="3.2" stroke-linecap="round"/>
<text x="1583.9" y="928.5" font-size="32.3" text-anchor="middle" fill="#000">2</text>
<line x1="1688.5" y1="882.6" x2="1688.5" y2="897.4" stroke="#000" stroke-width="3.2" stroke-linecap="round"/>
<text x="1688.5" y="928.5" font-size="32.3" text-anchor="middle" fill="#000">3</text>
<line x1="1792.7" y1="882.6" x2="1792.7" y2="897.4" stroke="#000" stroke-width="3.2" stroke-linecap="round"/>
<text x="1792.7" y="928.5" font-size="32.3" text-anchor="middle" fill="#000">4</text>
<line x1="1896.9" y1="882.6" x2="1896.9" y2="897.4" stroke="#000" stroke-width="3.2" stroke-linecap="round"/>
<text x="1896.9" y="928.5" font-size="32.3" text-anchor="middle" fill="#000">5</text>
<line x1="1429.2" y1="434.4" x2="1478.6" y2="434.4" stroke="#231815" stroke-width="3.2" stroke-linecap="butt"/>
<line x1="1429.2" y1="473.2" x2="1478.6" y2="473.2" stroke="#0a9139" stroke-width="3.2" stroke-linecap="butt"/>
<g fill="#fff" stroke="#5f6062" stroke-width="2.9"><circle cx="1454" cy="434.4" r="7"/><circle cx="1454" cy="473.2" r="7"/></g>
<text x="1506.9" y="448.4" font-size="31.5" text-anchor="start" fill="#000" font-style="italic">Wwc1/2<tspan dy="-10.6" font-size="18.2">fl/fl</tspan></text>
<text x="1506.9" y="487" font-size="31.5" text-anchor="start" fill="#000" font-style="italic">Wwc1/2<tspan dy="-10.6" font-size="18.2">Syn</tspan><tspan font-size="18.2" font-style="normal">-cKO</tspan></text>
<text x="1896.9" y="577" font-size="37" text-anchor="middle" fill="#000">*</text>
<text x="1593.4" y="1026.9" font-size="60" text-anchor="start" fill="#000" font-weight="bold">I</text>
<g fill="none" stroke-width="1.15">
<path d="M1832.3,1039.1 C1829,1038.8 1819.2,1035.3 1812.6,1037.1 C1806,1039 1797.6,1044 1792.6,1050.2 C1787.5,1056.3 1785.5,1064.9 1782.5,1074.2 C1779.5,1083.6 1776.8,1096.3 1774.5,1106.3 C1772.2,1116.3 1769.7,1125.4 1768.5,1134.4 C1767.3,1143.4 1767.7,1156.1 1767.5,1160.4" stroke="#f0933a"/>
<path d="M1832.3,1057.2 C1828.6,1060 1817.6,1069 1810.6,1074.2 C1803.6,1079.4 1796.2,1082.2 1790.5,1088.3 C1784.9,1094.3 1780.9,1102.3 1776.5,1110.3 C1772.2,1118.3 1767.8,1127.7 1764.5,1136.4 C1761.1,1145.1 1757.8,1158.1 1756.5,1162.4" stroke="#f0933a"/>
<path d="M1832.3,1086.3 C1828.6,1086.9 1817.2,1088.3 1810.6,1090.3 C1804,1092.3 1797.6,1094.3 1792.6,1098.3 C1787.5,1102.3 1784.2,1108.3 1780.5,1114.3 C1776.8,1120.3 1772.5,1126.7 1770.5,1134.4 C1768.5,1142.1 1768.8,1156.1 1768.5,1160.4" stroke="#f0933a"/>
<path d="M1832.3,1090.3 C1829.6,1093.3 1822.6,1101.3 1816.6,1108.3 C1810.7,1115.3 1804.6,1124 1796.6,1132.4 C1788.5,1140.7 1773.2,1154.1 1768.5,1158.4" stroke="#f0933a"/>
<path d="M1832.3,1133.4 C1829.1,1138.1 1816.7,1156.8 1813.6,1161.4" stroke="#f0933a"/>
<path d="M1832.3,1039.1 C1834.3,1040.3 1842.1,1043 1844.7,1046.1 C1847.3,1049.3 1847.7,1052.5 1847.7,1058.2 C1847.7,1063.9 1844.2,1072.2 1844.7,1080.2 C1845.2,1088.3 1847.4,1098.6 1850.7,1106.3 C1854,1114 1858.1,1120.7 1864.7,1126.4 C1871.4,1132 1882.8,1134.7 1890.8,1140.4 C1898.8,1146.1 1909.2,1157.1 1912.9,1160.4" stroke="#6fb353"/>
<path d="M1832.3,1057.2 C1833.7,1056.7 1835.9,1053.7 1840.7,1054.2 C1845.4,1054.7 1855.4,1055.8 1860.7,1060.2 C1866.1,1064.5 1870.3,1071.9 1872.8,1080.2 C1875.3,1088.6 1875.1,1096.9 1875.8,1110.3 C1876.4,1123.7 1876.6,1152.1 1876.8,1160.4" stroke="#6fb353"/>
<path d="M1832.3,1086.3 C1834.7,1085.4 1840.3,1080.9 1846.7,1081.2 C1853.1,1081.6 1863.7,1083.4 1870.8,1088.3 C1877.8,1093.1 1885.1,1101.3 1888.8,1110.3 C1892.5,1119.3 1892.3,1134 1892.8,1142.4 C1893.3,1150.8 1892,1157.4 1891.8,1160.4" stroke="#6fb353"/>
<path d="M1832.3,1090.3 C1835,1089.4 1841.6,1084.6 1848.7,1085.2 C1855.8,1085.9 1866.7,1087.4 1874.8,1094.3 C1882.8,1101.1 1892.8,1115.3 1896.8,1126.4 C1900.8,1137.4 1898.5,1154.8 1898.8,1160.4" stroke="#6fb353"/>
<path d="M1832.3,1133.4 C1833.7,1131.2 1837.3,1123.2 1840.7,1120.3 C1844.1,1117.5 1848.7,1116 1852.7,1116.3 C1856.7,1116.7 1860.7,1119.3 1864.7,1122.3 C1868.8,1125.4 1872.1,1131 1876.8,1134.4 C1881.5,1137.7 1890.1,1141.1 1892.8,1142.4" stroke="#6fb353"/>
<path d="M1944.9,1092.3 C1947.6,1096.6 1957.5,1109.3 1961,1118.3 C1964.5,1127.4 1965,1139.4 1966,1146.4 C1967,1153.4 1966.8,1158.1 1967,1160.4" stroke="#6fb353"/>
<path d="M1756.5,1162.4 C1755.1,1167.1 1748.8,1181.5 1748.4,1190.5 C1748.1,1199.5 1750.4,1208.9 1754.5,1216.6 C1758.5,1224.3 1766.2,1232.1 1772.5,1236.6 C1778.9,1241.2 1785.2,1243.3 1792.6,1243.7 C1799.9,1244 1810,1240.7 1816.6,1238.6 C1823.2,1236.6 1829.6,1232.8 1832.3,1231.6" stroke="#2f8f8c"/>
<path d="M1767.5,1160.4 C1766,1162.8 1760,1168.1 1758.5,1174.5 C1757,1180.8 1756.1,1190.9 1758.5,1198.5 C1760.8,1206.2 1766.8,1215.3 1772.5,1220.6 C1778.2,1225.9 1785.2,1230 1792.6,1230.6 C1799.9,1231.3 1810,1227.3 1816.6,1224.6 C1823.2,1221.9 1829.6,1216.3 1832.3,1214.6" stroke="#2f8f8c"/>
<path d="M1768.5,1160.4 C1770.2,1164.8 1775.5,1176.5 1778.5,1186.5 C1781.5,1196.5 1784.9,1210.6 1786.5,1220.6 C1788.2,1230.6 1786.2,1239.3 1788.5,1246.7 C1790.9,1254 1793.3,1260.7 1800.6,1264.7 C1807.9,1268.7 1827,1269.7 1832.3,1270.7" stroke="#2f8f8c"/>
<path d="M1813.6,1161.4 C1811.4,1166.3 1803.4,1181.3 1800.6,1190.5 C1797.7,1199.7 1796.6,1209.2 1796.6,1216.6 C1796.6,1223.9 1797.2,1228.6 1800.6,1234.6 C1803.9,1240.7 1811.3,1248.5 1816.6,1252.7 C1821.9,1256.9 1829.6,1258.5 1832.3,1259.7" stroke="#2f8f8c"/>
<path d="M1766.5,1162.4 C1765.5,1167.1 1761.8,1180.8 1760.5,1190.5 C1759.1,1200.2 1756.5,1212.2 1758.5,1220.6 C1760.5,1229 1765.5,1237 1772.5,1240.7 C1779.5,1244.3 1790.6,1241.3 1800.6,1242.7 C1810.5,1244 1827,1247.7 1832.3,1248.7" stroke="#2f8f8c"/>
<path d="M1832.3,1214.6 C1837,1211.6 1852.6,1201.2 1860.7,1196.5 C1868.8,1191.9 1875.4,1191.9 1880.8,1186.5 C1886.1,1181.2 1891,1168.8 1892.8,1164.5 C1894.7,1160.1 1892,1161.1 1891.8,1160.4" stroke="#e94a2e"/>
<path d="M1832.3,1231.6 C1835.3,1229.8 1843.3,1222.8 1850.7,1220.6 C1858.1,1218.4 1868.4,1220.9 1876.8,1218.6 C1885.1,1216.3 1893.5,1209.2 1900.8,1206.6 C1908.2,1203.9 1916,1205.2 1920.9,1202.6 C1925.7,1199.9 1929.2,1195.2 1929.9,1190.5 C1930.6,1185.8 1927.7,1179.5 1924.9,1174.5 C1922.1,1169.5 1914.9,1162.8 1912.9,1160.4" stroke="#e94a2e"/>
<path d="M1832.3,1248.7 C1835.3,1248.7 1844.6,1251.7 1850.7,1248.7 C1856.8,1245.7 1863.7,1238.6 1868.8,1230.6 C1873.8,1222.6 1879.4,1212.2 1880.8,1200.5 C1882.1,1188.9 1877.4,1167.1 1876.8,1160.4" stroke="#e94a2e"/>
<path d="M1832.3,1259.7 C1835.3,1259.2 1844.3,1261.5 1850.7,1256.7 C1857.1,1251.8 1863.7,1241.7 1870.8,1230.6 C1877.8,1219.6 1888.1,1202.2 1892.8,1190.5 C1897.5,1178.8 1897.8,1165.5 1898.8,1160.4" stroke="#e94a2e"/>
<path d="M1832.3,1270.7 C1835,1269.4 1843.3,1267.4 1848.7,1262.7 C1854.1,1258 1859.4,1250.3 1864.7,1242.7 C1870.1,1235 1874.8,1222.6 1880.8,1216.6 C1886.8,1210.6 1895.8,1210.9 1900.8,1206.6 C1905.8,1202.2 1911.2,1197.5 1910.9,1190.5 C1910.5,1183.5 1900.8,1168.8 1898.8,1164.5" stroke="#e94a2e"/>
<path d="M1967,1162.4 C1966.8,1165.5 1967.7,1170.8 1966,1180.5 C1964.3,1190.2 1961.2,1209.7 1957,1220.6 C1952.8,1231.5 1948.6,1243.3 1940.9,1245.7 C1933.3,1248 1916.5,1238.1 1910.9,1234.6 C1905.2,1231.1 1906.8,1232 1906.8,1224.6 C1906.8,1217.3 1909.7,1199.5 1910.9,1190.5 C1912,1181.5 1913.5,1175.5 1913.9,1170.5 C1914.2,1165.5 1913,1162.1 1912.9,1160.4" stroke="#e94a2e"/>
<path d="M1872.8,1220.6 C1875.8,1221.9 1884.5,1226.3 1890.8,1228.6 C1897.2,1231 1907.5,1233.6 1910.9,1234.6" stroke="#e94a2e"/>
</g>
<ellipse cx="1832.9" cy="1162.4" rx="138.2" ry="149.4" fill="none" stroke="#4c5fad" stroke-width="1.4"/>
<circle cx="1776.5" cy="1109.7" r="13.4" fill="none" stroke="#4c5fad" stroke-width="1.4"/>
<line x1="1832.3" y1="1013" x2="1832.3" y2="1311.8" stroke="#1b2a8c" stroke-width="1.8" stroke-dasharray="1.8 1.7"/>
<line x1="1694.7" y1="1161.4" x2="1971.1" y2="1161.4" stroke="#1b2a8c" stroke-width="1.8" stroke-dasharray="1.8 1.7"/>
<g fill="none" stroke-width="1.15">
<path d="M1740.4,1492.5 C1737.7,1488.4 1727,1477.1 1724.4,1468.4 C1721.7,1459.7 1721.7,1449.3 1724.4,1440.3 C1727,1431.3 1733.7,1419.9 1740.4,1414.3 C1747.1,1408.6 1756.1,1405.9 1764.5,1406.2 C1772.8,1406.6 1783.9,1411.6 1790.5,1416.3 C1797.2,1420.9 1799.6,1428.3 1804.6,1434.3 C1809.6,1440.3 1815.8,1447.3 1820.6,1452.4 C1825.5,1457.4 1831.5,1462.4 1833.7,1464.4" stroke="#f0933a"/>
<path d="M1750.4,1492.5 C1750.1,1487.1 1747.4,1468.4 1748.4,1460.4 C1749.4,1452.4 1751.1,1448.3 1756.5,1444.3 C1761.8,1440.3 1773.2,1437 1780.5,1436.3 C1787.9,1435.6 1793.9,1437.3 1800.6,1440.3 C1807.3,1443.3 1815.1,1450.3 1820.6,1454.4 C1826.1,1458.4 1831.5,1462.7 1833.7,1464.4" stroke="#f0933a"/>
<path d="M1732.4,1492.5 C1732.1,1486.4 1728.4,1465.4 1730.4,1456.4 C1732.4,1447.3 1736.4,1442.8 1744.4,1438.3 C1752.4,1433.8 1769.2,1429 1778.5,1429.3 C1787.9,1429.6 1796.9,1438.5 1800.6,1440.3" stroke="#f0933a"/>
<path d="M1833.7,1414.3 C1830.8,1414.6 1821.8,1412.9 1816.6,1416.3 C1811.4,1419.6 1805.1,1427.6 1802.6,1434.3 C1800.1,1441 1800.9,1449.3 1801.6,1456.4 C1802.2,1463.4 1805.4,1470.4 1806.6,1476.4 C1807.8,1482.4 1808.3,1489.8 1808.6,1492.5" stroke="#f0933a"/>
<path d="M1833.7,1464.4 C1829.8,1462.7 1818.1,1456.4 1810.6,1454.4 C1803.1,1452.4 1794.4,1451 1788.5,1452.4 C1782.7,1453.7 1776.2,1458.4 1775.5,1462.4 C1774.8,1466.4 1780.7,1472.1 1784.5,1476.4 C1788.4,1480.8 1795.9,1485.8 1798.6,1488.4 C1801.2,1491.1 1800.2,1491.8 1800.6,1492.5" stroke="#f0933a"/>
<path d="M1833.7,1464.4 C1831.8,1467.1 1826.1,1475.7 1822.6,1480.4 C1819.1,1485.1 1814.3,1490.5 1812.6,1492.5" stroke="#f0933a"/>
<path d="M1833.7,1414.3 C1837.5,1414.3 1848.9,1412.9 1856.7,1414.3 C1864.6,1415.6 1874.4,1417.9 1880.8,1422.3 C1887.1,1426.6 1891.8,1432.6 1894.8,1440.3 C1897.8,1448 1897.2,1459.7 1898.8,1468.4 C1900.5,1477.1 1903.8,1488.4 1904.8,1492.5" stroke="#6fb353"/>
<path d="M1833.7,1464.4 C1834.8,1460.4 1836.2,1446.7 1840.7,1440.3 C1845.2,1434 1854,1430.6 1860.7,1426.3 C1867.4,1421.9 1873.4,1416.3 1880.8,1414.3 C1888.1,1412.3 1897.8,1410.6 1904.8,1414.3 C1911.9,1417.9 1920.2,1429.3 1922.9,1436.3 C1925.6,1443.3 1923.2,1449 1920.9,1456.4 C1918.5,1463.7 1911.5,1474.4 1908.9,1480.4 C1906.2,1486.4 1905.5,1490.5 1904.8,1492.5" stroke="#6fb353"/>
<path d="M1833.7,1464.4 C1838.2,1465.1 1851.2,1468.1 1860.7,1468.4 C1870.3,1468.7 1880.8,1469.4 1890.8,1466.4 C1900.8,1463.4 1914.5,1452 1920.9,1450.3 C1927.2,1448.7 1928.9,1452.7 1928.9,1456.4 C1928.9,1460 1923.9,1466.4 1920.9,1472.4 C1917.9,1478.4 1912.5,1489.1 1910.9,1492.5" stroke="#6fb353"/>
<path d="M1833.7,1464.4 C1834.8,1468.1 1838.5,1481.8 1840.7,1486.4 C1842.9,1491.1 1845.7,1491.5 1846.7,1492.5" stroke="#6fb353"/>
<path d="M1833.7,1468.4 C1836.5,1470.7 1846.5,1478.4 1850.7,1482.4 C1854.9,1486.4 1857.4,1490.8 1858.7,1492.5" stroke="#6fb353"/>
<path d="M1833.7,1444.3 C1835.8,1442.3 1840.8,1435.6 1846.7,1432.3 C1852.5,1429 1861.1,1424.6 1868.8,1424.3 C1876.4,1423.9 1886.5,1425.6 1892.8,1430.3 C1899.2,1435 1904.2,1444.7 1906.8,1452.4 C1909.5,1460 1909.2,1469.7 1908.9,1476.4 C1908.5,1483.1 1905.5,1489.8 1904.8,1492.5" stroke="#6fb353"/>
<path d="M1732.4,1494.5 C1735.4,1497.8 1743.1,1509.7 1750.4,1514.5 C1757.8,1519.4 1768.2,1522.5 1776.5,1523.5 C1784.9,1524.5 1793.2,1521.9 1800.6,1520.5 C1807.9,1519.2 1815.1,1516.4 1820.6,1515.5 C1826.1,1514.7 1831.5,1515.5 1833.7,1515.5" stroke="#2f8f8c"/>
<path d="M1750.4,1494.5 C1751.4,1498.1 1753.8,1508.5 1756.5,1516.5 C1759.1,1524.5 1763.1,1534.6 1766.5,1542.6 C1769.8,1550.6 1772.2,1559 1776.5,1564.6 C1780.9,1570.3 1785.2,1574 1792.6,1576.7 C1799.9,1579.4 1813.8,1579.9 1820.6,1580.7 C1827.5,1581.5 1831.5,1581.5 1833.7,1581.7" stroke="#2f8f8c"/>
<path d="M1748.4,1500.5 C1751.1,1506.5 1759.5,1525.5 1764.5,1536.6 C1769.5,1547.6 1772.5,1560.3 1778.5,1566.7 C1784.5,1573 1793.6,1573 1800.6,1574.7 C1807.6,1576.3 1815.1,1576.3 1820.6,1576.7 C1826.1,1577 1831.5,1576.7 1833.7,1576.7" stroke="#2f8f8c"/>
<path d="M1812.6,1492.5 C1810.6,1496.5 1802.9,1507.5 1800.6,1516.5 C1798.2,1525.5 1798.6,1537.6 1798.6,1546.6 C1798.6,1555.6 1801.6,1563.3 1800.6,1570.7 C1799.6,1578 1795.6,1586.5 1792.6,1590.7 C1789.5,1594.9 1784.9,1596.4 1782.5,1595.7 C1780.2,1595.1 1777.5,1590.2 1778.5,1586.7 C1779.5,1583.2 1783.9,1579 1788.5,1574.7 C1793.2,1570.3 1800.6,1564.6 1806.6,1560.6 C1812.6,1556.6 1820.1,1552.3 1824.6,1550.6 C1829.1,1548.9 1832.2,1550.3 1833.7,1550.2" stroke="#2f8f8c"/>
<path d="M1800.6,1494.5 C1801.9,1498.1 1806.9,1507.8 1808.6,1516.5 C1810.3,1525.2 1809.3,1536.6 1810.6,1546.6 C1811.9,1556.6 1814.3,1567.3 1816.6,1576.7 C1819,1586 1821.8,1595.4 1824.6,1602.7 C1827.5,1610.1 1832.2,1617.8 1833.7,1620.8" stroke="#2f8f8c"/>
<path d="M1808.6,1494.5 C1805.9,1498.8 1797.2,1513.5 1792.6,1520.5 C1787.9,1527.6 1782.2,1531.2 1780.5,1536.6 C1778.9,1541.9 1779.2,1547.6 1782.5,1552.6 C1785.9,1557.6 1797.6,1564.3 1800.6,1566.7" stroke="#2f8f8c"/>
<path d="M1833.7,1595.7 C1831.5,1597.1 1826.1,1603.2 1820.6,1603.7 C1815.1,1604.2 1805.9,1601.6 1800.6,1598.7 C1795.2,1595.9 1792.2,1591.7 1788.5,1586.7 C1784.9,1581.7 1780.2,1571.7 1778.5,1568.7" stroke="#2f8f8c"/>
<path d="M1809.2,1508.5 C1809.2,1515.9 1809.2,1545.3 1809.2,1552.6" stroke="#2f8f8c"/>
<path d="M1833.7,1515.5 C1835.5,1515.7 1840.8,1515.4 1844.7,1516.5 C1848.5,1517.7 1854.7,1519.2 1856.7,1522.5 C1858.7,1525.9 1857.1,1527.6 1856.7,1536.6 C1856.4,1545.6 1854.7,1565 1854.7,1576.7 C1854.7,1588.4 1857.1,1597.1 1856.7,1606.8 C1856.4,1616.4 1854.7,1629.8 1852.7,1634.8 C1850.7,1639.8 1847.9,1638.5 1844.7,1636.8 C1841.5,1635.2 1835.5,1626.8 1833.7,1624.8" stroke="#e94a2e"/>
<path d="M1904.8,1494.5 C1902.5,1498.1 1896.5,1508.5 1890.8,1516.5 C1885.1,1524.5 1876.4,1533.2 1870.8,1542.6 C1865.1,1551.9 1860.7,1565.3 1856.7,1572.7 C1852.7,1580 1850.5,1582.7 1846.7,1586.7 C1842.9,1590.7 1835.8,1595.1 1833.7,1596.7" stroke="#e94a2e"/>
<path d="M1908.9,1494.5 C1908.9,1499.8 1910.2,1517.9 1908.9,1526.5 C1907.5,1535.2 1904.8,1541.6 1900.8,1546.6 C1896.8,1551.6 1891.5,1555.3 1884.8,1556.6 C1878.1,1558 1867.4,1555.6 1860.7,1554.6 C1854,1553.6 1849.2,1551.3 1844.7,1550.6 C1840.2,1549.9 1835.5,1550.3 1833.7,1550.2" stroke="#e94a2e"/>
<path d="M1846.7,1494.5 C1849,1496.1 1858.1,1501.1 1860.7,1504.5 C1863.4,1507.8 1863.4,1511.5 1862.7,1514.5 C1862.1,1517.5 1857.7,1521.2 1856.7,1522.5" stroke="#e94a2e"/>
<path d="M1844.7,1494.5 C1846.7,1498.8 1852.4,1511.8 1856.7,1520.5 C1861.1,1529.2 1865.7,1538.2 1870.8,1546.6 C1875.8,1555 1882.1,1563.3 1886.8,1570.7 C1891.5,1578 1896.8,1587.4 1898.8,1590.7" stroke="#e94a2e"/>
<path d="M1833.7,1576.7 C1836.5,1576.3 1844.5,1576 1850.7,1574.7 C1856.9,1573.3 1864.4,1568.3 1870.8,1568.7 C1877.1,1569 1884.5,1573.3 1888.8,1576.7 C1893.1,1580 1896.8,1584.4 1896.8,1588.7 C1896.8,1593.1 1893.5,1600.1 1888.8,1602.7 C1884.1,1605.4 1874.8,1606.4 1868.8,1604.8 C1862.7,1603.1 1855.7,1597.4 1852.7,1592.7 C1849.7,1588 1848.7,1583.4 1850.7,1576.7 C1852.7,1570 1858.1,1561 1864.7,1552.6 C1871.4,1544.3 1884.1,1536.2 1890.8,1526.5 C1897.5,1516.9 1902.5,1499.8 1904.8,1494.5" stroke="#e94a2e"/>
<path d="M1833.7,1581.7 C1836.2,1581.2 1844.2,1582.9 1848.7,1578.7 C1853.2,1574.5 1855.4,1564.3 1860.7,1556.6 C1866.1,1548.9 1874.1,1540.9 1880.8,1532.6 C1887.5,1524.2 1896.2,1512.8 1900.8,1506.5 C1905.5,1500.1 1907.5,1496.5 1908.9,1494.5" stroke="#e94a2e"/>
</g>
<ellipse cx="1834" cy="1494" rx="138.7" ry="149.3" fill="none" stroke="#4c5fad" stroke-width="1.4"/>
<circle cx="1777.5" cy="1441.3" r="13.4" fill="none" stroke="#4c5fad" stroke-width="1.4"/>
<line x1="1833.7" y1="1344.7" x2="1833.7" y2="1643.3" stroke="#1b2a8c" stroke-width="1.8" stroke-dasharray="1.8 1.7"/>
<line x1="1695.3" y1="1492.9" x2="1972.7" y2="1492.9" stroke="#1b2a8c" stroke-width="1.8" stroke-dasharray="1.8 1.7"/>
<text transform="translate(1672.9,1227) rotate(-90)" font-size="38.2" text-anchor="start" fill="#000" font-style="italic">Wwc1/2<tspan dy="-12.8" font-size="22">fl/fl</tspan></text>
<text transform="translate(1672.9,1590) rotate(-90)" font-size="38.2" text-anchor="start" fill="#000" font-style="italic">Wwc1/2<tspan dy="-12.8" font-size="22">Syn</tspan><tspan font-size="22" font-style="normal">-cKO</tspan></text>
</svg></body></html>
